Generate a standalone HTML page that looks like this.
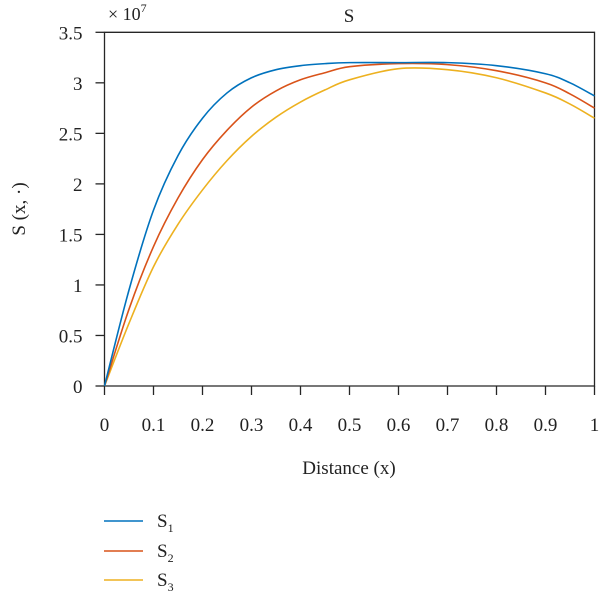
<!DOCTYPE html>
<html><head><meta charset="utf-8"><style>
html,body{margin:0;padding:0;background:#fff;}
svg text{font-family:"Liberation Serif",serif;fill:#222;}
</style></head><body>
<svg id="chart" width="600" height="599" viewBox="0 0 600 599" xmlns="http://www.w3.org/2000/svg">
<g id="axes"></g>
<g id="series"></g>
<text x="349" y="22" font-size="19" text-anchor="middle">S</text>
<text x="108" y="20" font-size="18">× 10<tspan font-size="12" dy="-8">7</tspan></text>
<text x="349" y="474" font-size="19" text-anchor="middle">Distance (x)</text>
<text transform="translate(25,209) rotate(-90)" font-size="19" text-anchor="middle">S (x, ·)</text>
<g>
<line x1="104" y1="521" x2="143" y2="521" stroke="#0072BD" stroke-width="1.6"/>
<text x="157" y="527" font-size="19">S<tspan font-size="12" dy="5">1</tspan></text>
<line x1="104" y1="551" x2="143" y2="551" stroke="#D95319" stroke-width="1.6"/>
<text x="157" y="557" font-size="19">S<tspan font-size="12" dy="5">2</tspan></text>
<line x1="104" y1="580" x2="143" y2="580" stroke="#EDB120" stroke-width="1.6"/>
<text x="157" y="586" font-size="19">S<tspan font-size="12" dy="5">3</tspan></text>
</g>
</svg>
<script>
const xs = [0,0.05,0.1,0.15,0.2,0.25,0.3,0.35,0.4,0.45,0.5,0.6,0.7,0.8,0.9,0.95,1.0];
const s1 = [0,0.95,1.74,2.28,2.65,2.9,3.05,3.13,3.17,3.19,3.2,3.2,3.2,3.17,3.09,3.0,2.87];
const s2 = [0,0.76,1.38,1.86,2.24,2.53,2.76,2.92,3.03,3.1,3.16,3.19,3.18,3.12,3.0,2.89,2.75];
const s3 = [0,0.62,1.18,1.6,1.94,2.23,2.47,2.66,2.81,2.93,3.03,3.14,3.13,3.05,2.9,2.79,2.65];
const xTicks = [0,0.1,0.2,0.3,0.4,0.5,0.6,0.7,0.8,0.9,1];
const yTicks = [0,0.5,1,1.5,2,2.5,3,3.5];
const L=104.5,R=594.5,T=32.3,B=386;
function X(v){return L+(R-L)*v;}
function Y(v){return B-(B-T)*v/3.5;}
const NS='http://www.w3.org/2000/svg';
const axes=document.getElementById('axes');
function mk(tag,attrs,parent){const e=document.createElementNS(NS,tag);for(const k in attrs)e.setAttribute(k,attrs[k]);parent.appendChild(e);return e;}
const box=mk('path',{d:`M${L},${T}H${R}V${B}H${L}Z`,fill:'none',stroke:'#262626','stroke-width':1.3},axes);


xTicks.forEach(t=>{
  const l=mk('line',{x1:X(t),x2:X(t),y1:B,y2:B+9,stroke:'#262626','stroke-width':1.3},axes);
  
  
  const tx=mk('text',{x:X(t),y:B+45,'font-size':19,'text-anchor':'middle'},axes);
  tx.textContent=String(t);
  
  
});
yTicks.forEach(t=>{
  const l=mk('line',{x1:L-9,x2:L,y1:Y(t),y2:Y(t),stroke:'#262626','stroke-width':1.3},axes);
  
  
  const tx=mk('text',{x:L-22,y:Y(t)+7,'font-size':19,'text-anchor':'end'},axes);
  tx.textContent=String(t);
  
  
});
function pathFor(vals){
  const p=xs.map((x,i)=>[X(x),Y(vals[i])]);
  let d=`M${p[0][0]},${p[0][1]}`;
  for(let i=0;i<p.length-1;i++){
    const p0=p[Math.max(0,i-1)],p1=p[i],p2=p[i+1],p3=p[Math.min(p.length-1,i+2)];
    const c1=[p1[0]+(p2[0]-p0[0])/6,p1[1]+(p2[1]-p0[1])/6];
    const c2=[p2[0]-(p3[0]-p1[0])/6,p2[1]-(p3[1]-p1[1])/6];
    d+=`C${c1[0]},${c1[1]} ${c2[0]},${c2[1]} ${p2[0]},${p2[1]}`;
  }
  return d;
}
const sg=document.getElementById('series');
[[s3,'#EDB120','series-s3'],[s2,'#D95319','series-s2'],[s1,'#0072BD','series-s1']].forEach(([v,c,n])=>{
  const e=mk('path',{d:pathFor(v),fill:'none',stroke:c,'stroke-width':1.6},sg);
  
  
});
</script>
</body></html>
